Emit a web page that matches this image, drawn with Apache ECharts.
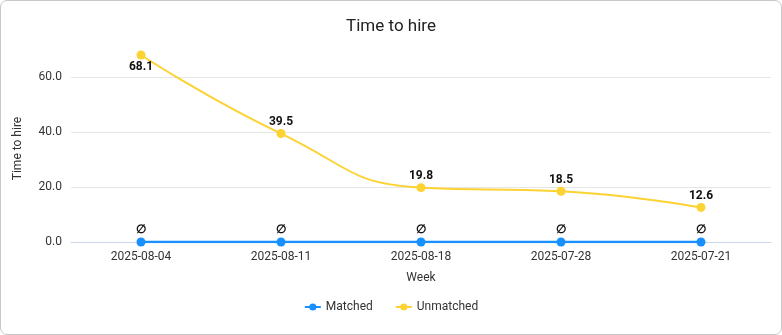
<!DOCTYPE html>
<html><head><meta charset="utf-8">
<script src="https://cdn.jsdelivr.net/npm/echarts@6/dist/echarts.min.js"></script>
<style>
html,body{margin:0;padding:0;background:#fff;}
#wrap{position:absolute;left:0;top:0;width:780px;height:333px;border:1px solid #c8c8c8;border-radius:7px;overflow:hidden;}
#c{width:780px;height:333px;}
</style></head>
<body><div id="wrap"><div id="c"></div></div>
<script>
const categories = ['2025-08-04','2025-08-11','2025-08-18','2025-07-28','2025-07-21'];
const matched = [0,0,0,0,0];
const unmatched = [68.1,39.5,19.8,18.5,12.6];
const unmatchedLabelPos = ['bottom','top','top','top','top'];

const chart = echarts.init(document.getElementById('c'));
const font = 'Roboto, "Noto Sans", sans-serif';
chart.setOption({
  animation:false,
  title:{text:'Time to hire',left:'center',top:12,textStyle:{fontSize:17,fontWeight:'normal',color:'#222',fontFamily:font}},
  grid:{left:70,right:10,top:54,bottom:92},
  legend:{bottom:16,left:'center',itemGap:22,itemWidth:16,itemHeight:9,textStyle:{fontSize:12,color:'#333',fontFamily:font},data:['Matched','Unmatched']},
  xAxis:{type:'category',data:categories,boundaryGap:true,name:'Week',nameLocation:'middle',nameGap:30,
    nameTextStyle:{fontSize:12,color:'#333',fontFamily:font},
    axisLine:{lineStyle:{color:'#ccd6eb'}},axisTick:{show:false},
    axisLabel:{fontSize:12,color:'#333',fontFamily:font,margin:9}},
  yAxis:{type:'value',min:0,max:68.1,interval:20,name:'Time to hire',nameLocation:'middle',nameGap:47,
    nameTextStyle:{fontSize:12,color:'#333',fontFamily:font},
    axisLabel:{fontSize:12,color:'#333',fontFamily:font,showMaxLabel:false,margin:9,formatter:v=>v.toFixed(1)},
    splitLine:{showMaxLine:false,lineStyle:{color:'#e6e6e6'}}},
  series:[
    {name:'Matched',type:'line',data:matched,color:'#1890ff',symbol:'circle',symbolSize:9,
      lineStyle:{width:2.5},
      label:{show:true,position:'top',formatter:()=>'∅',fontSize:12,fontWeight:'bold',color:'#111',distance:2}},
    {name:'Unmatched',type:'line',data:unmatched.map((v,i)=>({value:v,label:{position:unmatchedLabelPos[i]}})),color:'#fdd233',smooth:true,symbol:'circle',symbolSize:9,
      lineStyle:{width:2},
      label:{show:true,fontSize:12,fontWeight:'bold',color:'#111',fontFamily:font,distance:1,formatter:p=>p.value.toFixed(1)}}
  ]
});
</script></body></html>
